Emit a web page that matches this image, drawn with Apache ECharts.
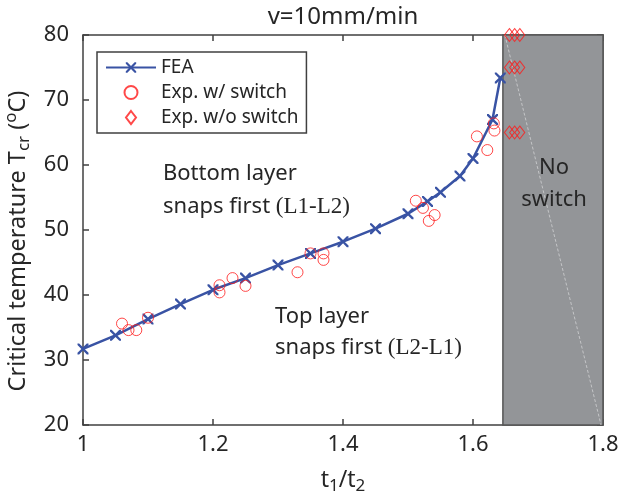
<!DOCTYPE html>
<html>
<head>
<meta charset="utf-8">
<script src="https://cdn.jsdelivr.net/npm/echarts@6/dist/echarts.min.js"></script>
<style>
  html, body { margin: 0; padding: 0; background: #fff; }
  #chart { width: 621px; height: 499px; }
</style>
</head>
<body>
<div id="chart"></div>
<script>
// FEA curve
const feaX = [1.0, 1.05, 1.1, 1.15, 1.2, 1.25, 1.3, 1.35, 1.4, 1.45, 1.5, 1.53, 1.55, 1.58, 1.6, 1.63, 1.642]
const feaY = [31.7, 33.8, 36.3, 38.6, 40.8, 42.6, 44.6, 46.4, 48.2, 50.2, 52.5, 54.4, 55.8, 58.3, 61.0, 67.0, 73.4]

// experiments with switch
const expX = [1.06, 1.07, 1.082, 1.1, 1.21, 1.21, 1.23, 1.25, 1.33, 1.35, 1.37, 1.37, 1.512, 1.523, 1.532, 1.541, 1.606, 1.622, 1.632, 1.633]
const expY = [35.6, 34.6, 34.6, 36.5, 41.5, 40.4, 42.6, 41.4, 43.5, 46.4, 46.4, 45.4, 54.5, 53.4, 51.4, 52.3, 64.4, 62.3, 66.4, 65.3]

// experiments without switch
const noSwX = [1.656, 1.664, 1.672, 1.656, 1.664, 1.672, 1.656, 1.664, 1.672]
const noSwY = [80, 80, 80, 75, 75, 75, 65, 65, 65]

// shaded "no switch" region
const noSwitchRange = [1.646, 1.8]
const diagX = [1.649, 1.797]
const diagY = [80, 20]

const xTicks = [1, 1.8, 0.2]
const yTicks = [20, 80, 10]

const txt = '#262626'
const font = 'Noto Sans'
const blue = '#3953a4'
const red = '#ff1a1a'
const crossPath = 'path://M0,0L3,0L10,7L17,0L20,0L20,3L13,10L20,17L20,20L17,20L10,13L3,20L0,20L0,17L7,10L0,3Z'
const diamondPath = 'path://M5,0L10,6.5L5,13L0,6.5Z'

const zip = (a, b) => a.map((v, i) => [v, b[i]])

const chart = echarts.init(document.getElementById('chart'))

const axisBase = {
  axisLine: { show: true, lineStyle: { color: '#404040', width: 1.5 } },
  axisTick: { show: true, inside: true, length: 6, lineStyle: { color: '#404040', width: 1.5 } },
  splitLine: { show: false }
}

const plainText = (x, y, text, size, align) => ({
  type: 'text', x, y, z: 10,
  style: { text, font: size + 'px "' + font + '"', fill: txt, align: align || 'left', verticalAlign: 'middle' }
})

const mixedText = (x, y, text) => ({
  type: 'text', x, y, z: 10,
  style: {
    text, font: '22px "' + font + '"', fill: txt, align: 'left', verticalAlign: 'middle',
    rich: { s: { fontFamily: 'Liberation Serif', fontSize: 23, fill: txt } }
  }
})

chart.setOption({
  animation: false,
  textStyle: { fontFamily: font },
  grid: { left: 83, right: 18, top: 35, bottom: 74, outerBoundsMode: 'none' },
  legend: {
    orient: 'vertical',
    left: 97,
    top: 52,
    data: [
      { name: 'FEA' },
      { name: 'Exp. w/ switch' },
      { name: 'Exp. w/o switch', icon: diamondPath }
    ],
    backgroundColor: '#fff',
    borderColor: '#404040',
    borderWidth: 1.5,
    borderRadius: 0,
    padding: [6, 8, 6, 8],
    itemWidth: 50,
    itemHeight: 13,
    itemGap: 6,
    textStyle: { fontFamily: font, fontSize: 19, color: txt }
  },
  xAxis: [
    Object.assign({}, axisBase, {
      type: 'value',
      min: xTicks[0], max: xTicks[1], interval: xTicks[2],
      name: 't{sub|1}/t{sub|2}',
      nameLocation: 'middle',
      nameGap: 40,
      nameTextStyle: {
        fontFamily: font, fontSize: 23, color: txt, lineHeight: 30,
        rich: { sub: { fontFamily: font, fontSize: 17, color: txt, verticalAlign: 'bottom', lineHeight: 16 } }
      },
      axisLabel: { fontFamily: font, fontSize: 22, color: txt, margin: 9 }
    }),
    Object.assign({}, axisBase, {
      type: 'value', position: 'top',
      min: xTicks[0], max: xTicks[1], interval: xTicks[2],
      axisLabel: { show: false }
    })
  ],
  yAxis: [
    Object.assign({}, axisBase, {
      type: 'value',
      min: yTicks[0], max: yTicks[1], interval: yTicks[2],
      name: 'Critical temperature T{sub|cr} ({sup|o}C)',
      nameLocation: 'middle',
      nameRotate: 90,
      nameGap: 48,
      nameTextStyle: {
        fontFamily: font, fontSize: 23.5, color: txt, lineHeight: 30,
        padding: [0, 22, 0, 0],
        rich: {
          sub: { fontFamily: font, fontSize: 17, color: txt, verticalAlign: 'bottom', lineHeight: 16 },
          sup: { fontFamily: font, fontSize: 17, color: txt, verticalAlign: 'top', lineHeight: 16 }
        }
      },
      axisLabel: { fontFamily: font, fontSize: 22, color: txt, margin: 14 }
    }),
    Object.assign({}, axisBase, {
      type: 'value', position: 'right',
      min: yTicks[0], max: yTicks[1], interval: yTicks[2],
      axisLabel: { show: false }
    })
  ],
  series: [
    {
      name: 'region',
      type: 'line',
      data: [],
      z: 1,
      silent: true,
      markArea: {
        silent: true,
        itemStyle: { color: '#939598', borderColor: '#555', borderWidth: 1.5 },
        data: [[{ coord: [noSwitchRange[0], yTicks[1]] }, { coord: [noSwitchRange[1], yTicks[0]] }]]
      }
    },
    {
      name: 'diag',
      type: 'line',
      data: zip(diagX, diagY),
      z: 2,
      silent: true,
      symbol: 'none',
      lineStyle: { color: '#c4c5c7', width: 1, type: [3, 2] }
    },
    {
      name: 'FEA',
      type: 'line',
      data: zip(feaX, feaY),
      z: 5,
      symbol: crossPath,
      symbolSize: 11,
      showAllSymbol: true,
      itemStyle: { color: blue },
      lineStyle: { color: blue, width: 2.5 }
    },
    {
      name: 'Exp. w/ switch',
      type: 'scatter',
      data: zip(expX, expY),
      z: 6,
      symbol: 'circle',
      symbolSize: 11,
      itemStyle: { color: 'rgba(0,0,0,0)', borderColor: red, borderWidth: 1 }
    },
    {
      name: 'Exp. w/o switch',
      type: 'scatter',
      data: zip(noSwX, noSwY),
      z: 6,
      symbol: diamondPath,
      symbolSize: [10, 13],
      itemStyle: { color: 'rgba(0,0,0,0)', borderColor: red, borderWidth: 1 }
    }
  ],
  graphic: [
    plainText(343, 17, 'v=10mm/min', 24, 'center'),
    plainText(163, 174, 'Bottom layer', 22),
    mixedText(163, 207, 'snaps first {s|(L1-L2)}'),
    plainText(275, 317, 'Top layer', 22),
    mixedText(275, 348, 'snaps first {s|(L2-L1)}'),
    plainText(554, 168, 'No', 22, 'center'),
    plainText(554, 200, 'switch', 22, 'center')
  ]
})

window.addEventListener('resize', () => {
  chart.resize()
})
</script>
</body>
</html>
